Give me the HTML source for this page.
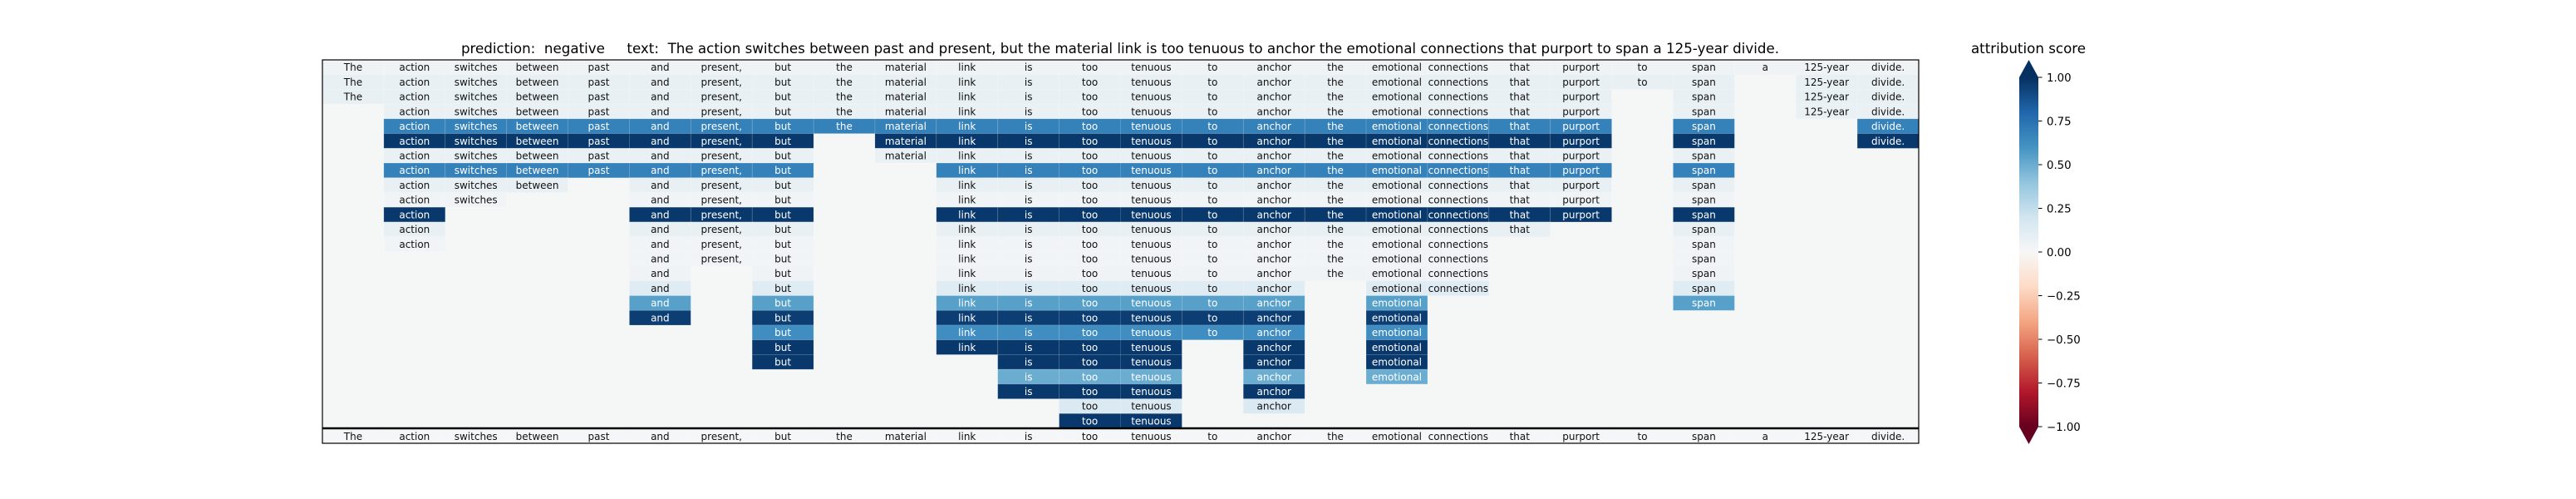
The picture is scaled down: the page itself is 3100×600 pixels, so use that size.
<!DOCTYPE html>
<html><head><meta charset="utf-8"><style>
html,body{margin:0;padding:0;background:#fff;}
svg{display:block;font-family:"DejaVu Sans","Liberation Sans",sans-serif;}
</style></head>
<body>
<svg id="chart" width="3100" height="600" viewBox="0 0 3100 600" xmlns="http://www.w3.org/2000/svg">
  <rect width="3100" height="600" fill="#fff"/>
  <text x="1348" y="64" font-size="16.7" text-anchor="middle" fill="#000" xml:space="preserve">prediction:  negative     text:  The action switches between past and present, but the material link is too tenuous to anchor the emotional connections that purport to span a 125-year divide.</text>
  <g id="cells"></g>
  <g id="bottom"></g>
  <line x1="388" y1="515" x2="2309" y2="515" stroke="#000" stroke-width="2.5"/>
  <rect x="388" y="72" width="1921" height="461" fill="none" stroke="#000" stroke-width="1.2"/>
  <defs>
    <linearGradient id="cbgrad" x1="0" y1="1" x2="0" y2="0">
      <stop offset="0" stop-color="#67001f"/><stop offset="0.1" stop-color="#b2182b"/>
      <stop offset="0.2" stop-color="#d6604d"/><stop offset="0.3" stop-color="#f4a582"/>
      <stop offset="0.4" stop-color="#fddbc7"/><stop offset="0.5" stop-color="#f7f7f7"/>
      <stop offset="0.6" stop-color="#d1e5f0"/><stop offset="0.7" stop-color="#92c5de"/>
      <stop offset="0.8" stop-color="#4393c3"/><stop offset="0.9" stop-color="#2166ac"/>
      <stop offset="1" stop-color="#053061"/>
    </linearGradient>
  </defs>
  <g>
    <rect x="2430" y="93" width="23" height="420" fill="url(#cbgrad)"/>
    <polygon points="2430,93 2453,93 2441.5,72" fill="#053061"/>
    <polygon points="2430,513 2453,513 2441.5,534" fill="#67001f"/>
    <g id="cbticks"></g>
    <text x="2441" y="64" font-size="16.7" text-anchor="middle" fill="#000">attribution score</text>
  </g>
</svg>
<script>
const words = ["The","action","switches","between","past","and","present,","but","the","material","link","is","too","tenuous","to","anchor","the","emotional","connections","that","purport","to","span","a","125-year","divide."];
const rowValues = [0.04,0.08,0.08,0.07,0.68,0.97,0.07,0.68,0.08,0.03,0.97,0.08,0.03,0.03,0.04,0.12,0.55,0.95,0.62,0.97,0.97,0.5,0.97,0.15,0.97];
const rowMasks = [
"11111111111111111111111111",
"11111111111111111111111011",
"11111111111111111111101011",
"01111111111111111111101011",
"01111111111111111111101001",
"01111111011111111111101001",
"01111111011111111111101000",
"01111111001111111111101000",
"01110111001111111111101000",
"01100111001111111111101000",
"01000111001111111111101000",
"01000111001111111111001000",
"01000111001111111110001000",
"00000111001111111110001000",
"00000101001111111110001000",
"00000101001111110110001000",
"00000101001111110100001000",
"00000101001111110100000000",
"00000001001111110100000000",
"00000001001111010100000000",
"00000001000111010100000000",
"00000000000111010100000000",
"00000000000111010000000000",
"00000000000011010000000000",
"00000000000011000000000000"];
const cbTicks = [1.0,0.75,0.5,0.25,0.0,-0.25,-0.5,-0.75,-1.0];
const cbLabels = ["1.00","0.75","0.50","0.25","0.00","\u22120.25","\u22120.50","\u22120.75","\u22121.00"];

const X0=388, X1=2309, Y0=72, Y1=515;
const colW=(X1-X0)/words.length, rowH=(Y1-Y0)/rowValues.length;
const xPos=i=>X0+i*colW, yPos=r=>Y0+r*rowH;
const cbY=v=>303-v*210;
const stops=["#67001f","#b2182b","#d6604d","#f4a582","#fddbc7","#f7f7f7","#d1e5f0","#92c5de","#4393c3","#2166ac","#053061"];
function hex(h){return [parseInt(h.substr(1,2),16),parseInt(h.substr(3,2),16),parseInt(h.substr(5,2),16)];}
function rdbu(v){let t=Math.max(0,Math.min(1,(v+1)/2))*10;let i=Math.min(9,Math.floor(t));let f=t-i;
 const a=hex(stops[i]),b=hex(stops[i+1]);return "rgb("+a.map((c,k)=>Math.round(c+(b[k]-c)*f)).join(",")+")";}
const NS="http://www.w3.org/2000/svg";
const cells=document.getElementById("cells");
const bg=document.createElementNS(NS,"rect");
bg.setAttribute("x",X0);bg.setAttribute("y",Y0);bg.setAttribute("width",X1-X0);bg.setAttribute("height",Y1-Y0);bg.setAttribute("fill","#f5f7f7");


cells.appendChild(bg);
rowValues.forEach((v,r)=>{
  for(let i=0;i<words.length;i++){
    if(rowMasks[r][i]!=="1") continue;
    const rc=document.createElementNS(NS,"rect");
    rc.setAttribute("x",xPos(i));rc.setAttribute("y",yPos(r));rc.setAttribute("width",colW);rc.setAttribute("height",rowH);
    rc.setAttribute("fill",rdbu(v));rc.setAttribute("stroke","rgba(255,255,255,0.15)");rc.setAttribute("stroke-width","0.8");
    
    
    cells.appendChild(rc);
    const t=document.createElementNS(NS,"text");
    t.setAttribute("x",xPos(i)+colW/2);t.setAttribute("y",yPos(r)+rowH/2+4.3);
    t.setAttribute("font-size","12");t.setAttribute("text-anchor","middle");
    t.setAttribute("fill",v>0.4?"#fff":"#111");
    t.textContent=words[i];
    
    
    cells.appendChild(t);
  }
});
const bottom=document.getElementById("bottom");
for(let i=0;i<words.length;i++){
  const rc=document.createElementNS(NS,"rect");
  rc.setAttribute("x",xPos(i));rc.setAttribute("y",Y1);rc.setAttribute("width",colW);rc.setAttribute("height",533-Y1);
  rc.setAttribute("fill",rdbu(0.01));
  
  
  bottom.appendChild(rc);
  const t=document.createElementNS(NS,"text");
  t.setAttribute("x",xPos(i)+colW/2);t.setAttribute("y",529);
  t.setAttribute("font-size","12");t.setAttribute("text-anchor","middle");t.setAttribute("fill","#111");
  t.textContent=words[i];
  
  
  bottom.appendChild(t);
}
const cbt=document.getElementById("cbticks");
cbTicks.forEach((v,k)=>{
  const l=document.createElementNS(NS,"line");
  l.setAttribute("x1",2453);l.setAttribute("x2",2457.5);l.setAttribute("y1",cbY(v));l.setAttribute("y2",cbY(v));l.setAttribute("stroke","#000");l.setAttribute("stroke-width","1");
  
  
  cbt.appendChild(l);
  const t=document.createElementNS(NS,"text");
  t.setAttribute("x",2463);t.setAttribute("y",cbY(v)+4.8);t.setAttribute("font-size","13.3");t.setAttribute("fill","#000");
  t.textContent=cbLabels[k];
  
  
  cbt.appendChild(t);
});
</script>
</body></html>
